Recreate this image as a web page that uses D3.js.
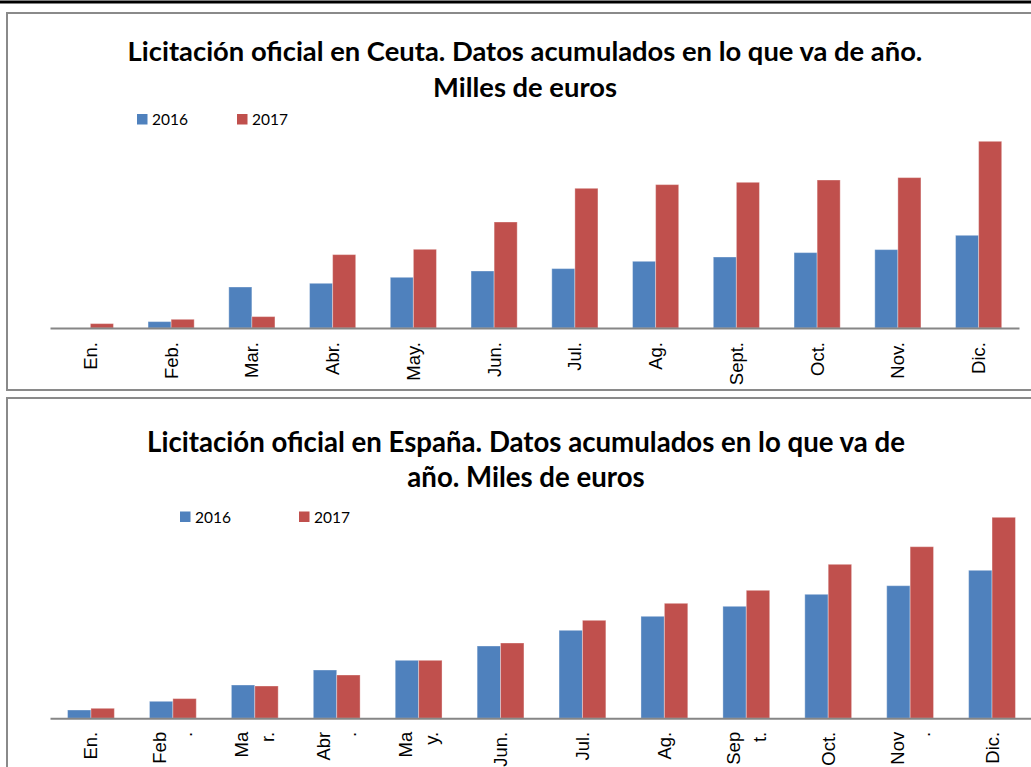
<!DOCTYPE html>
<html>
<head>
<meta charset="utf-8">
<script src="https://cdnjs.cloudflare.com/ajax/libs/d3/7.8.5/d3.min.js"></script>
<style>
    body { margin: 0; background: #fff; }
    svg { display: block; }
</style>
</head>
<body>
<svg id="sheet" width="1031" height="767"></svg>
<script>
'use strict';

// categories (months) and tick labels as they appear in each chart
var months = ['En.', 'Feb.', 'Mar.', 'Abr.', 'May.', 'Jun.', 'Jul.', 'Ag.', 'Sept.', 'Oct.', 'Nov.', 'Dic.'];
var ceutaLabels = ['En.', 'Feb.', 'Mar.', 'Abr.', 'May.', 'Jun.', 'Jul.', 'Ag.', 'Sept.', 'Oct.', 'Nov.', 'Dic.'];
var spainLabels = ['En.', 'Feb\n.', 'Ma\nr.', 'Abr\n.', 'Ma\ny.', 'Jun.', 'Jul.', 'Ag.', 'Sep\nt.', 'Oct.', 'Nov\n.', 'Dic.'];

var seriesNames = ['2016', '2017'];
var seriesColors = ['#4F81BD', '#C0504D'];

// values (no value axis shown, relative units)
var ceuta2016 = [0, 6.4, 41, 44.7, 50.7, 57, 59.4, 66.7, 71, 75.4, 78.4, 92.7];
var ceuta2017 = [4.4, 8.7, 11.4, 73.4, 78.7, 106, 139.7, 143.4, 145.7, 148, 150.4, 186.7];
var spain2016 = [8.3, 17, 33.3, 48.3, 58, 72.3, 88, 102, 112, 124, 132.6, 148];
var spain2017 = [10, 19.7, 32.3, 43.3, 58, 75.3, 98, 115, 128, 154, 171.6, 201];

var ceutaTitle = ['Licitación oficial en Ceuta. Datos acumulados en lo que va de año.', 'Milles de euros'];
var spainTitle = ['Licitación oficial en España. Datos acumulados en lo que va de', 'año. Miles de euros'];

var builder = {
    _frame: function (svg, y, h) {
        svg.append('rect')
            .attr('x', 7)
            .attr('y', y)
            .attr('width', 1060)
            .attr('height', h)
            .attr('fill', '#fff')
            .attr('stroke', '#8a8a8a')
            .attr('stroke-width', 2);
    },

    _title: function (svg, lines, opt) {
        var g = svg.append('g')
            .attr('font-family', 'Lato, "Open Sans", sans-serif')
            .attr('font-weight', 'bold')
            .attr('fill', '#000')
            .attr('text-anchor', 'middle');
        var first = g.append('text')
            .attr('x', opt.titleX)
            .attr('y', opt.titleY[0])
            .attr('font-size', 24)
            .text(lines[0]);
        // fit the first line to the width seen in the picture
        var size = 24 * opt.titleW / first.node().getComputedTextLength();
        first.attr('font-size', size);
        g.append('text')
            .attr('x', opt.titleX)
            .attr('y', opt.titleY[1])
            .attr('font-size', size)
            .text(lines[1]);
    },

    _legend: function (svg, opt) {
        var g = svg.append('g');
        var items = g.selectAll('g')
            .data(seriesNames)
            .enter()
            .append('g')
            .attr('transform', function (d, i) {
                return 'translate(' + opt.legendX[i] + ',' + opt.legendY + ')';
            });
        items.append('rect')
            .attr('width', 10.5)
            .attr('height', 10.5)
            .attr('fill', function (d, i) { return seriesColors[i]; });
        items.append('text')
            .attr('x', 15)
            .attr('y', 11)
            .attr('font-family', 'Lato, "Open Sans", sans-serif')
            .attr('font-size', 15.5)
            .attr('fill', '#000')
            .text(function (d) { return d; });
    },

    _bars: function (d3, svg, opt) {
        var x = d3.scaleBand()
            .domain(months)
            .range([opt.x0, opt.x1])
            .paddingInner(1.5 / 3.5)
            .paddingOuter(0.75 / 3.5);
        var xs = d3.scaleBand()
            .domain(seriesNames)
            .range([0, x.bandwidth()]);
        var y = d3.scaleLinear()
            .domain([0, opt.yMax])
            .range([opt.axisY, opt.axisY - opt.yMax]);

        var rows = months.map(function (m, i) {
            return { month: m, values: [opt.series[0][i], opt.series[1][i]] };
        });

        var groups = svg.append('g')
            .selectAll('g')
            .data(rows)
            .enter()
            .append('g')
            .attr('transform', function (d) { return 'translate(' + x(d.month) + ',0)'; });

        groups.selectAll('rect')
            .data(function (d) {
                return d.values.map(function (v, k) { return { name: seriesNames[k], value: v, k: k }; });
            })
            .enter()
            .filter(function (d) { return d.value > 0; })
            .append('rect')
            .attr('x', function (d) { return xs(d.name); })
            .attr('y', function (d) { return y(d.value); })
            .attr('width', xs.bandwidth())
            .attr('height', function (d) { return y(0) - y(d.value); })
            .attr('fill', function (d) { return seriesColors[d.k]; })
            .attr('stroke', 'rgba(255,255,255,0.35)')
            .attr('stroke-width', 1);

        var labels = opt.labels;
        svg.append('g')
            .attr('transform', 'translate(0,' + opt.axisY + ')')
            .call(d3.axisBottom(x).tickSize(0).tickSizeOuter(0))
            .call(function (ax) {
                ax.attr('font-family', '"Liberation Sans", Arial, sans-serif')
                    .attr('font-size', 18.5);
                ax.select('.domain')
                    .attr('stroke', '#868686')
                    .attr('stroke-width', 2);
                ax.selectAll('.tick text').each(function (d, i) {
                    var lines = labels[i].split('\n');
                    var t = d3.select(this)
                        .text(null)
                        .attr('fill', '#000')
                        .attr('transform', 'rotate(-90)')
                        .attr('text-anchor', 'end')
                        .attr('x', -opt.labelGap)
                        .attr('y', 0)
                        .attr('dy', null);
                    lines.forEach(function (line, k) {
                        t.append('tspan')
                            .attr('x', -opt.labelGap)
                            .attr('y', (k - (lines.length - 1) / 2) * 26)
                            .attr('dy', '0.35em')
                            .text(line);
                    });
                });
            });
    },

    build: function (d3, svg, opt) {
        builder._frame(svg, opt.frameY, opt.frameH);
        builder._title(svg, opt.title, opt);
        builder._legend(svg, opt);
        builder._bars(d3, svg, opt);
    }
};

var svg = d3.select('#sheet');

svg.append('rect')
    .attr('x', 0)
    .attr('y', 0.5)
    .attr('width', 1031)
    .attr('height', 3)
    .attr('fill', '#000');

builder.build(d3, svg, {
    frameY: 13, frameH: 377,
    title: ceutaTitle, titleX: 525, titleY: [61, 97], titleW: 795,
    legendX: [137, 237], legendY: 114,
    x0: 50, x1: 1019, axisY: 328, yMax: 200,
    series: [ceuta2016, ceuta2017], labels: ceutaLabels, labelGap: 14
});

builder.build(d3, svg, {
    frameY: 398, frameH: 420,
    title: spainTitle, titleX: 526, titleY: [452, 487], titleW: 758,
    legendX: [180, 299], legendY: 511.5,
    x0: 50, x1: 1033, axisY: 718.3, yMax: 210,
    series: [spain2016, spain2017], labels: spainLabels, labelGap: 13.5
});
</script>
</body>
</html>
